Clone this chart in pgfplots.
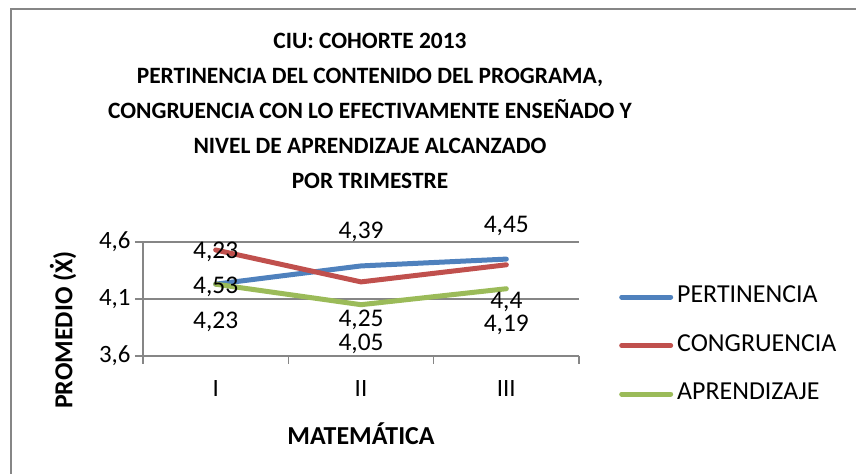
\documentclass[border=0pt]{standalone}
\usepackage{pgfplots}
\pgfplotsset{compat=1.18}
\usepackage{fontspec}
\setmainfont{Carlito}
\definecolor{cblue}{RGB}{79,129,189}
\definecolor{cred}{RGB}{192,80,77}
\definecolor{cgreen}{RGB}{155,187,89}
\definecolor{cgrid}{RGB}{134,134,134}
\begin{document}
\begin{tikzpicture}
\begin{axis}[
  name=ax, at={(0,0)}, anchor=south west,
  width=436bp, height=114bp, scale only axis,
  xmin=-0.5, xmax=2.5, ymin=3.6, ymax=4.6,
  clip=false,
  axis x line*=bottom, axis y line*=left,
  axis line style={cgrid, line width=1.5bp, -},
  xtick={-0.5,0.5,1.5,2.5},
  xticklabels={I,II,III},
  x tick label as interval,
  ytick={3.6,4.1,4.6},
  ymajorgrids,
  grid style={cgrid, line width=1.5bp},
  tick style={cgrid, line width=1.5bp},
  tick align=outside,
  major tick length=8bp,
  /pgf/number format/assume math mode=true,
  /pgf/number format/use comma,
  /pgf/number format/fixed,
  /pgf/number format/precision=1,
  tick label style={font=\fontsize{25}{29}\selectfont},
  yticklabel style={xshift=-1bp},
  xticklabel style={yshift=-13bp},
  xlabel={MATEMÁTICA},
  ylabel={PROMEDIO ({\accent"02D9 X})},
  label style={font=\fontsize{26}{30}\selectfont\bfseries},
  xlabel style={at={(axis description cs:0.5,-0.685)}, anchor=center},
  ylabel style={at={(axis description cs:-0.1835,0.228)}, anchor=center},
  legend style={at={(1.0917,0.092)}, anchor=west, draw=none, fill=none,
    inner sep=0pt, row sep=27.5bp, column sep=4bp,
    nodes={inner sep=0pt, text height=16bp, text depth=5bp, font=\fontsize{26}{30}\selectfont}},
  legend cell align=left,
  legend image code/.code={\draw[#1, line width=5bp, line cap=round] (2.5bp,0) -- (51.5bp,0);},
  nodes near coords style={font=\fontsize{25.5}{29}\selectfont, anchor=center, text=black},
]
\addplot[cblue, line width=5bp, line cap=round, line join=round] coordinates {(0,4.23) (1,4.39) (2,4.45)};
\addlegendentry{PERTINENCIA}
\addplot[cred, line width=5bp, line cap=round, line join=round] coordinates {(0,4.53) (1,4.25) (2,4.40)};
\addlegendentry{CONGRUENCIA}
\addplot[cgreen, line width=5bp, line cap=round, line join=round] coordinates {(0,4.23) (1,4.05) (2,4.19)};
\addlegendentry{APRENDIZAJE}
\addplot[draw=none, nodes near coords, point meta=explicit symbolic, forget plot]
  coordinates {(0,4.51) [4,23] (0,4.205) [4,53] (0,3.90) [4,23]
               (1,4.69) [4,39] (1,3.915) [4,25] (1,3.71) [4,05]
               (2,4.74) [4,45] (2,4.07) [4,4] (2,3.87) [4,19]};
\end{axis}
\pgfresetboundingbox
\begin{scope}[x=1bp, y=1bp, shift={(ax.south west)}, shift={(-143,-118)}]
\useasboundingbox (0,0) rectangle (856,474);
\draw[cgrid, line width=1.5bp] (11,-10) -- (11,465) -- (880,465);
\node[align=center, font=\fontsize{23.5}{35}\selectfont\bfseries] at (370,363)
  {CIU: COHORTE 2013\\PERTINENCIA DEL CONTENIDO DEL PROGRAMA,\\CONGRUENCIA CON LO EFECTIVAMENTE ENSEÑADO Y\\NIVEL DE APRENDIZAJE ALCANZADO\\POR TRIMESTRE};
\end{scope}
\end{tikzpicture}
\end{document}
